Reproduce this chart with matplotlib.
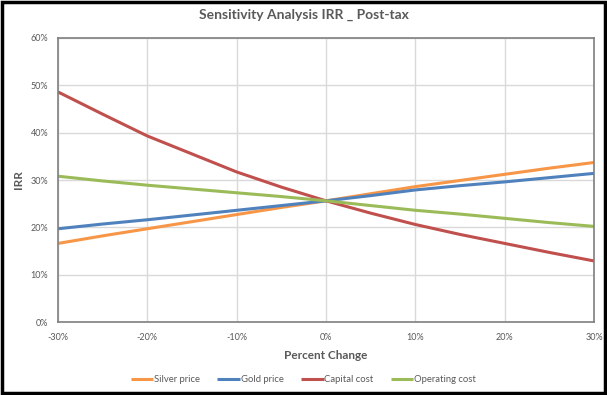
#!/usr/bin/python3

import matplotlib.pyplot as plt
from matplotlib.patches import Rectangle
from matplotlib.ticker import PercentFormatter

# percent change in each input
change = [-30, -25, -20, -15, -10, -5, 0, 5, 10, 15, 20, 25, 30]

# post-tax IRR (%)
silver_price = [16.6, 18.2, 19.7, 21.2, 22.7, 24.2, 25.6,
	27.1, 28.6, 29.9, 31.2, 32.5, 33.7]
gold_price = [19.7, 20.7, 21.6, 22.6, 23.6, 24.6, 25.6,
	26.7, 27.9, 28.8, 29.6, 30.5, 31.4]
capital_cost = [48.6, 43.9, 39.3, 35.5, 31.7, 28.5, 25.6,
	23.0, 20.6, 18.5, 16.6, 14.7, 12.9]
operating_cost = [30.8, 29.8, 28.9, 28.1, 27.3, 26.5, 25.6,
	24.6, 23.6, 22.8, 21.9, 21.0, 20.2]

series = ['Silver price', 'Gold price', 'Capital cost', 'Operating cost']
colours = ['#F79646', '#4F81BD', '#C0504D', '#9BBB59']


def main():
	'''draw the sensitivity chart'''

	plt.rcParams['font.family'] = ['Lato', 'DejaVu Sans']
	plt.rcParams['axes.unicode_minus'] = False
	txt = '#595959'

	fig = plt.figure(figsize=(6.07, 3.95), dpi=100)
	ax = fig.add_axes([0.0956, 0.1848, 0.883, 0.719])

	data = [silver_price, gold_price, capital_cost, operating_cost]
	for name, vals, col in zip(series, data, colours):
		ax.plot(change, vals, color=col, linewidth=2.2, label=name,
			solid_capstyle='butt', solid_joinstyle='round')

	ax.set_xlim(-30, 30)
	ax.set_ylim(0, 60)
	ax.set_xticks(range(-30, 31, 10))
	ax.set_yticks(range(0, 61, 10))
	ax.xaxis.set_major_formatter(PercentFormatter(decimals=0))
	ax.yaxis.set_major_formatter(PercentFormatter(decimals=0))
	ax.tick_params(length=0, labelsize=6.5, colors=txt)
	ax.tick_params(axis='x', pad=8)
	ax.tick_params(axis='y', pad=7)
	ax.grid(True, color='#D9D9D9', linewidth=1)
	ax.set_axisbelow(True)
	for s in ax.spines.values():
		s.set_color('#7F7F7F')
		s.set_linewidth(1.2)

	ax.set_xlabel('Percent Change', fontsize=8.5, fontweight='bold',
		color=txt, labelpad=6)
	ax.set_ylabel('IRR', fontsize=8.5, fontweight='bold', color=txt,
		labelpad=5)
	fig.text(0.5, 0.962, 'Sensitivity Analysis IRR _ Post-tax',
		ha='center', va='center', fontsize=10, fontweight='bold',
		color=txt)

	fig.legend(loc='center', bbox_to_anchor=(0.5, 0.038), ncol=4,
		frameon=False, fontsize=6.8, labelcolor=txt, handlelength=2.4,
		handletextpad=0.1, columnspacing=1.8)

	# black frame around the whole picture
	fig.patches.append(Rectangle((0.003, 0.004), 0.994, 0.992,
		transform=fig.transFigure, fill=False, edgecolor='black',
		linewidth=2.5))

	fig.savefig('out.png', dpi=100)


if __name__ == '__main__':
	main()
